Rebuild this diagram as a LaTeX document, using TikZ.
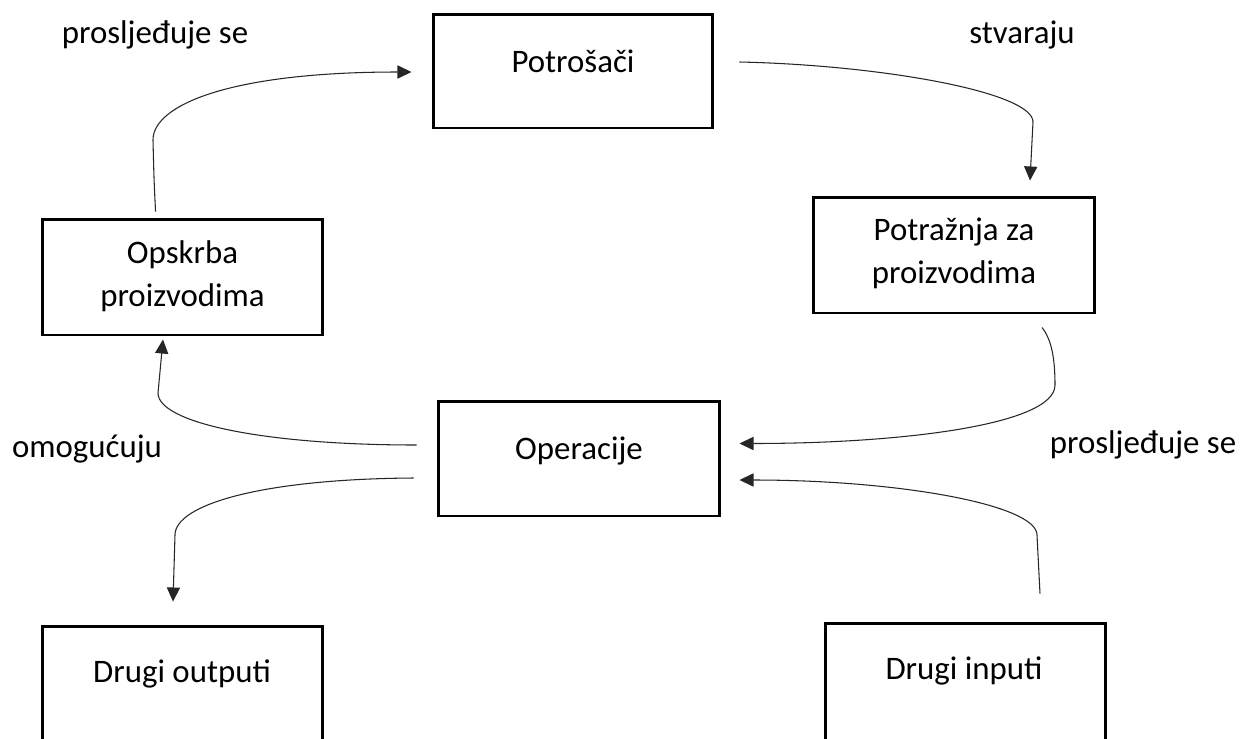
\documentclass[tikz,border=0pt]{standalone}
\usepackage{fontspec}
\setmainfont{Carlito}
\usetikzlibrary{arrows.meta,calc}
\begin{document}
\begin{tikzpicture}[x=0.02cm,y=-0.02cm,
  box/.style={draw,line width=1.7pt,rectangle,inner sep=0pt},
  txt/.style={font=\fontsize{18.7}{24.95}\selectfont,inner sep=0pt,anchor=base},
  conn/.style={line width=0.6pt,draw=black!85,-{Triangle[length=8pt,width=7.5pt]}}]
\useasboundingbox (0,0) rectangle (1252,738);
\clip (0,0) rectangle (1252,738);
\fill[white] (0,0) rectangle (1252,738);
\setlength\tabcolsep{0pt}
% boxes
\node[box,minimum width=5.6cm,minimum height=2.28cm] (potr) at (573,71) {};
\node[box,minimum width=5.64cm,minimum height=2.32cm] (potraz) at (954,255) {};
\node[box,minimum width=5.62cm,minimum height=2.32cm] (opskrba) at (182.5,277) {};
\node[box,minimum width=5.64cm,minimum height=2.3cm] (oper) at (579,458.5) {};
\node[box,minimum width=5.62cm,minimum height=2.68cm] (outputi) at (182.5,693) {};
\node[box,minimum width=5.62cm,minimum height=2.72cm] (inputi) at (965.5,691) {};
% box texts
\node[txt] (tpotr) at (573,72) {Potrošači};
\node[txt] (tpotraz) at (954,240) {\begin{tabular}[t]{c}Potražnja za\\proizvodima\end{tabular}};
\node[txt] (topskrba) at (182.5,263) {\begin{tabular}[t]{c}Opskrba\\proizvodima\end{tabular}};
\node[txt] (toper) at (579,459) {Operacije};
\node[txt] (toutputi) at (182,682) {Drugi outputi};
\node[txt] (tinputi) at (964,679) {Drugi inputi};
% connector labels
\node[txt] (l1) at (155,43) {prosljeđuje se};
\node[txt] (l2) at (1022,43) {stvaraju};
\node[txt] (l3) at (87,457) {omogućuju};
\node[txt] (l4) at (1143,453) {prosljeđuje se};
% connectors
\draw[conn] ($(opskrba.north west)+(115,-6)$) .. controls (154,180) .. (153,140)
  .. controls (153,105) and (230,72) .. ($(potr.west)+(-20,1)$);
\draw[conn] ($(potr.east)+(25,-9)$) .. controls (880,65) and (1033,92) .. (1033,122)
  -- ($(potraz.north)+(76,-15)$);
\draw[conn] ($(potraz.south)+(88,13)$) .. controls (1052,340) and (1055,360) .. (1055,385)
  .. controls (1055,425) and (900,443.5) .. ($(oper.east)+(18,-15)$);
\draw[conn] ($(oper.west)+(-20,-13.5)$) .. controls (260,445) and (158,422) .. (158,393)
  -- ($(opskrba.south)+(-19.5,3)$);
\draw[conn] ($(oper.west)+(-23,19.5)$) .. controls (260,479) and (175,505) .. (175,535)
  -- ($(outputi.north)+(-9.5,-23)$);
\draw[conn] ($(inputi.north)+(74.5,-28)$) -- (1037,535)
  .. controls (1037,505) and (900,480) .. ($(oper.east)+(18,21.5)$);
\end{tikzpicture}
\end{document}
